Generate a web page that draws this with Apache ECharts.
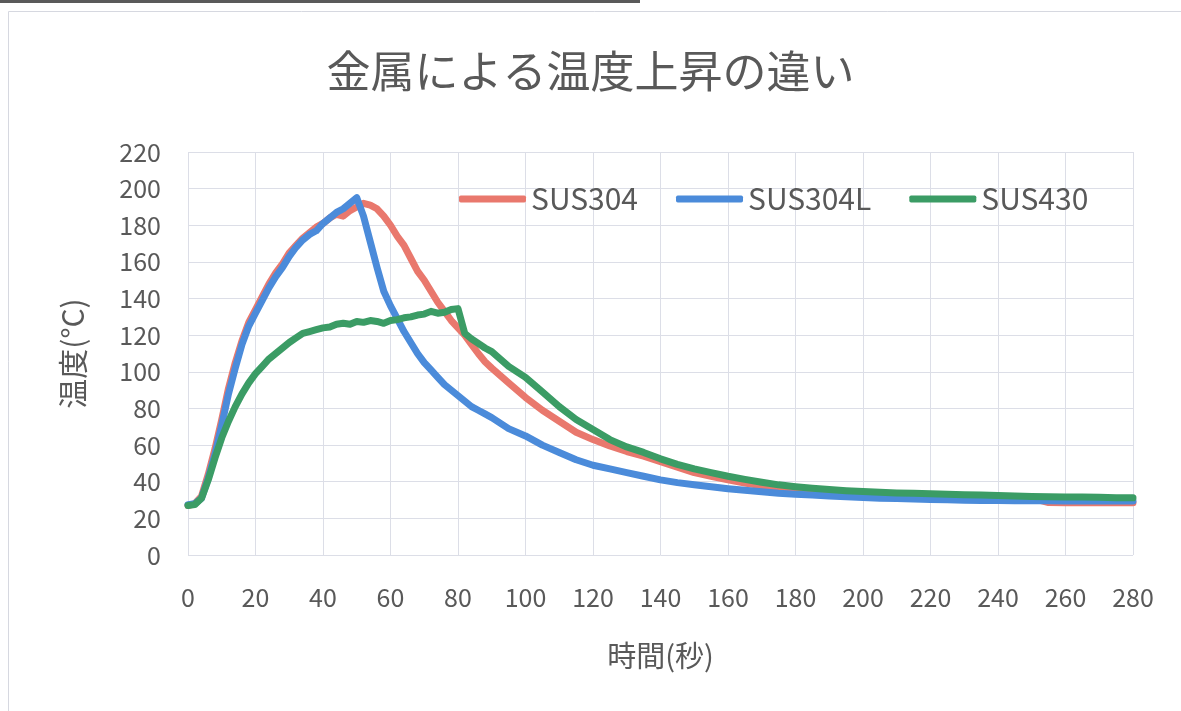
<!DOCTYPE html>
<html>
<head>
<meta charset="utf-8">
<script src="https://cdn.jsdelivr.net/npm/echarts@6/dist/echarts.min.js"></script>
<style>
  html, body { margin: 0; padding: 0; background: #fff; }
  #chart { width: 1181px; height: 711px; }
</style>
</head>
<body>
<div id="chart"></div>
<script>
// Elapsed time (seconds) at which each temperature was recorded
const times = [0,2,4,6,8,10,12,14,16,18,20,22,24,26,28,30,32,34,36,38,40,42,44,46,48,50,52,54,56,58,60,62,64,66,68,70,72,74,76,78,80,82,84,86,88,90,
  95,100,105,110,115,120,125,130,135,140,145,150,155,160,165,170,175,180,185,190,195,200,205,210,215,220,225,230,235,240,245,250,255,260,265,270,275,280];

// Temperature (°C) per material
const sus304 = [27,28,32,44,58,74,91,105,117,127,134,141,148,154,159,165,169,173,176,179,181,184,186,185,188,190,192,191,189,185,180,174,169,162,155,150,144,138,133,128,124,120,115,110,105.5,102,
  94,86,79,73,67,63,59.5,56.5,54,51,48,45,43,41,39.3,37.8,36.5,35.5,34.8,34.2,33.7,33.2,32.8,32.5,32.2,32,31.8,31.6,31.5,31.3,31.1,31,28.6,28.5,28.5,28.5,28.5,28.5];
const sus304L = [27.5,28,31,42,55,71,88,102,115,125,132,139,146,152,157,163,168,172,175,177,181,184,187,189,192,195,185,171,157,144,136,129,122,116,110,105,101,97,93,90,87,84,81,79,77,75,
  69,65,60,56,52,49,47,45,43,41,39.5,38.3,37.3,36.2,35.3,34.5,33.7,33.2,32.7,32.2,31.8,31.4,31,30.8,30.6,30.3,30.1,29.9,29.7,29.7,29.6,29.6,29.6,29.5,29.5,29.5,29.5,29.5];
const sus430 = [27,27.5,31,41,53,64,73,81,88,94,99,103,107,110,113,116,118.5,121,122,123,124,124.5,126,126.5,126,127.5,127,128,127.5,126.5,128,128.5,129.5,130,131,131.5,133,132,132.5,134,134.5,121,118,115.5,113,111,
  103,97,89,81,74,68.5,63,59,56,52.5,49.5,47,45,43,41.3,39.7,38.3,37.3,36.5,35.8,35.1,34.6,34.2,33.9,33.7,33.4,33.1,32.9,32.8,32.5,32.2,32,31.8,31.7,31.6,31.5,31.3,31.2];

const seriesNames = ['SUS304', 'SUS304L', 'SUS430'];
const seriesValues = [sus304, sus304L, sus430];
const seriesColors = ['#E9786D', '#4B8BDA', '#3B9C65'];

const textColor = '#595959';
const font = '"Noto Sans CJK JP", "Noto Sans", sans-serif';

const chart = echarts.init(document.getElementById('chart'), null, { renderer: 'canvas' });

chart.setOption({
  backgroundColor: '#ffffff',
  animation: false,
  title: {
    text: '金属による温度上昇の違い',
    left: 'center',
    top: 44,
    textStyle: { color: textColor, fontFamily: font, fontSize: 44, fontWeight: 'normal' }
  },
  legend: {
    data: seriesNames,
    left: 454,
    top: 179,
    itemWidth: 67,
    itemHeight: 7,
    itemGap: 38,
    icon: 'roundRect',
    textStyle: { color: textColor, fontFamily: font, fontSize: 30 }
  },
  grid: { left: 188, right: 48, top: 152, bottom: 156 },
  xAxis: {
    type: 'value',
    min: 0, max: 280, interval: 20,
    name: '時間(秒)',
    nameLocation: 'middle',
    nameGap: 86,
    nameTextStyle: { color: textColor, fontFamily: font, fontSize: 29 },
    axisLine: { show: false },
    axisTick: { show: false },
    axisLabel: { color: textColor, fontFamily: font, fontSize: 25, margin: 30 },
    splitLine: { show: true, lineStyle: { color: '#dcdee7', width: 1 } }
  },
  yAxis: {
    type: 'value',
    min: 0, max: 220, interval: 20,
    name: '温度(°C)',
    nameLocation: 'middle',
    nameRotate: 90,
    nameGap: 100,
    nameTextStyle: { color: textColor, fontFamily: font, fontSize: 30 },
    axisLine: { show: false },
    axisTick: { show: false },
    axisLabel: { color: textColor, fontFamily: font, fontSize: 25, margin: 27 },
    splitLine: { show: true, lineStyle: { color: '#dcdee7', width: 1 } }
  },
  series: seriesNames.map((name, i) => ({
    name: name,
    type: 'line',
    showSymbol: false,
    symbol: 'none',
    smooth: false,
    z: 2 + i,
    data: times.map((t, k) => [t, seriesValues[i][k]]),
    lineStyle: { color: seriesColors[i], width: 7, cap: 'round', join: 'round' },
    itemStyle: { color: seriesColors[i] }
  })),
  graphic: [
    // frame around the chart area
    { type: 'polyline', silent: true, z: 0,
      shape: { points: [[1181, 11.5], [8.5, 11.5], [8.5, 711]] },
      style: { stroke: '#d6d8e0', lineWidth: 1, fill: null } },
    // dark edge strip along the top
    { type: 'rect', silent: true, z: 0,
      shape: { x: 0, y: 0, width: 640, height: 3 },
      style: { fill: '#5a5a5a' } }
  ]
});
</script>
</body>
</html>
